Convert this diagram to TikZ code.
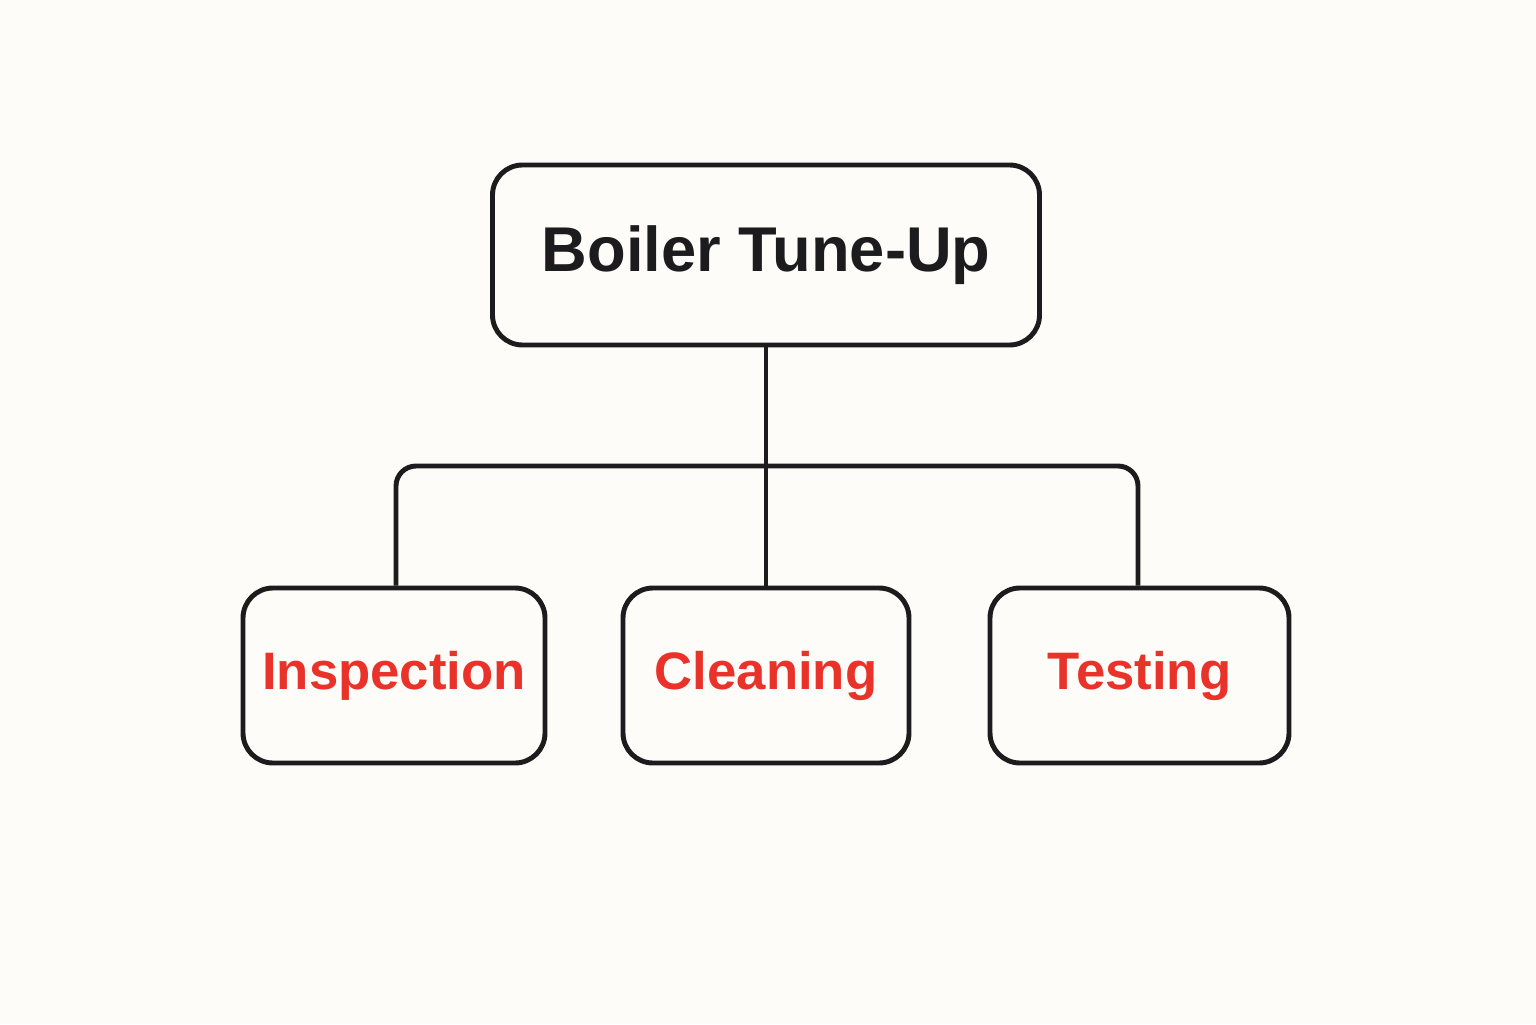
\documentclass[tikz,border=0pt]{standalone}
\usepackage{fontspec}
\setmainfont{Liberation Sans}
\usetikzlibrary{positioning}
\definecolor{paper}{HTML}{FDFCF8}
\definecolor{tunered}{HTML}{E8322A}
\definecolor{ink}{HTML}{1C1C1E}
\tikzset{box/.style={draw=ink, line width=1.4pt, rounded corners=0.3cm, fill=paper, inner sep=2pt}}
\begin{document}
\begin{tikzpicture}
        \fill [paper] (0,0) rectangle (15.36,10.24);
        \useasboundingbox (0,0) rectangle (15.36,10.24);

        \node [box, minimum width=5.47cm, minimum height=1.8cm, text=ink, font=\fontsize{18}{22}\selectfont\bfseries] (Tune) at (7.66,7.69) {Boiler Tune-Up};

        \node [box, minimum width=2.86cm, minimum height=1.75cm, text=tunered, font=\fontsize{15}{18}\selectfont\bfseries] (Clean) at (7.66,3.485) {Cleaning};
        \node [box, minimum width=3.02cm, minimum height=1.75cm, text=tunered, font=\fontsize{15}{18}\selectfont\bfseries] (Insp) at (3.94,3.485) {Inspection};
        \node [box, minimum width=2.99cm, minimum height=1.75cm, text=tunered, font=\fontsize{15}{18}\selectfont\bfseries] (Test) at (11.395,3.485) {Testing};

        \coordinate (Split) at (7.66,5.58);
        \draw [ink, line width=1.4pt] (Tune.south)--(Clean.north);
        \draw [ink, line width=1.4pt, rounded corners=0.2cm] ([xshift=0.02cm]Insp.north) |- (Split) -| ([xshift=-0.015cm]Test.north);
    \end{tikzpicture}
\end{document}
